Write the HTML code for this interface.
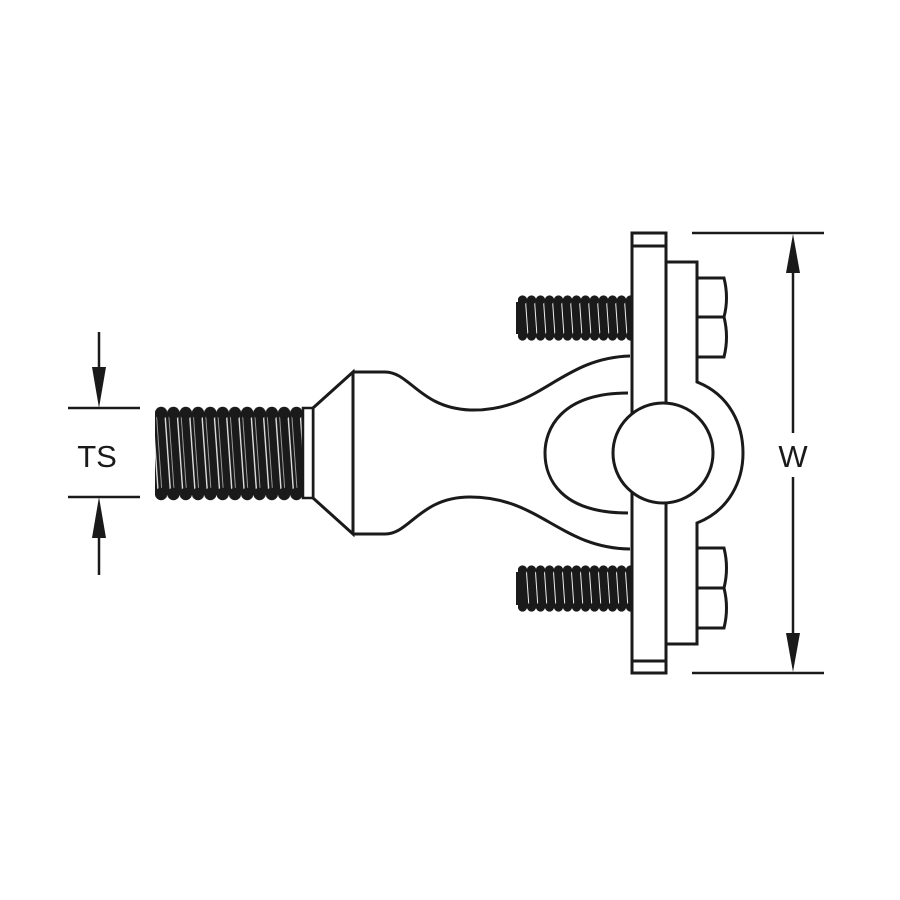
<!DOCTYPE html>
<html><head><style>body{margin:0;background:#fff}svg{display:block}</style></head><body>
<svg width="900" height="900" viewBox="0 0 900 900" xmlns="http://www.w3.org/2000/svg">
<defs>
<pattern id="crestA" x="155" y="0" width="12.3" height="900" patternUnits="userSpaceOnUse">
<circle cx="6.15" cy="413" r="6.2" fill="#1a1a1a"/><circle cx="6.15" cy="494" r="6.2" fill="#1a1a1a"/>
</pattern>
<pattern id="linesA" x="155" y="0" width="12.3" height="900" patternUnits="userSpaceOnUse" patternTransform="skewX(4)">
<rect x="0" y="0" width="12.3" height="900" fill="#1a1a1a"/><rect x="5" y="0" width="1.3" height="900" fill="#eee"/><rect x="9" y="0" width="0.8" height="900" fill="#bbb"/>
</pattern>
<pattern id="crestB" x="518" y="0" width="9" height="900" patternUnits="userSpaceOnUse">
<circle cx="4.5" cy="300" r="4.6" fill="#1a1a1a"/><circle cx="4.5" cy="336" r="4.6" fill="#1a1a1a"/>
<circle cx="4.5" cy="570" r="4.6" fill="#1a1a1a"/><circle cx="4.5" cy="607" r="4.6" fill="#1a1a1a"/>
</pattern>
<pattern id="linesB" x="518" y="0" width="9" height="900" patternUnits="userSpaceOnUse" patternTransform="skewX(4)">
<rect x="0" y="0" width="9" height="900" fill="#1a1a1a"/><rect x="4" y="0" width="1" height="900" fill="#eee"/>
</pattern>
</defs>
<g stroke="#1a1a1a" stroke-width="3" fill="none">
<!-- eye body -->
<path d="M353,372 L385,372 C410,372 420,408 470,410 C540,412 560,358 630,356" fill="#fff"/>
<path d="M353,534 L385,534 C410,534 420,497 470,497 C540,497 560,548 630,549" fill="#fff"/>
<path d="M313,408 L353,372 L353,534 L313,498 Z" fill="#fff"/>
<path d="M628,393 C560,393 545,430 545,453 C545,478 560,513 628,513"/>
</g>
<!-- main thread -->
<rect x="155" y="413" width="148" height="81" fill="url(#linesA)"/>
<rect x="155" y="406" width="148" height="95" fill="url(#crestA)"/>
<rect x="303" y="408" width="10" height="90" fill="#fff" stroke="#1a1a1a" stroke-width="2.5"/>
<!-- small bolts -->
<rect x="518" y="300" width="114" height="36" fill="url(#linesB)"/>
<rect x="518" y="295" width="114" height="46" fill="url(#crestB)"/>
<rect x="518" y="570" width="114" height="37" fill="url(#linesB)"/>
<rect x="518" y="565" width="114" height="47" fill="url(#crestB)"/>
<rect x="516" y="302" width="5" height="32" fill="#1a1a1a"/>
<rect x="516" y="572" width="5" height="33" fill="#1a1a1a"/>
<g stroke="#1a1a1a" stroke-width="3" fill="#fff">
<!-- nuts -->
<path d="M697,278 L724,278 Q729,298 724,317 Q729,337 724,357 L697,357 Z"/>
<line x1="697" y1="317" x2="724" y2="317"/>
<path d="M697,548 L724,548 Q729,568 724,588 Q729,608 724,628 L697,628 Z"/>
<line x1="697" y1="588" x2="724" y2="588"/>
<!-- plate 2 -->
<path d="M666,262 L697,262 L697,382 C730,395 743,425 743,453 C743,480 730,510 697,523 L697,644 L666,644 Z"/>
<!-- plate 1 -->
<rect x="632" y="233" width="34" height="440"/>
<line x1="632" y1="246" x2="666" y2="246"/>
<line x1="632" y1="661" x2="666" y2="661"/>
<circle cx="663" cy="453" r="50"/>
</g>
<!-- dimensions -->
<g stroke="#1a1a1a" stroke-width="2.5">
<line x1="68" y1="408" x2="140" y2="408"/><line x1="68" y1="497" x2="140" y2="497"/>
<line x1="99" y1="332" x2="99" y2="370"/><line x1="99" y1="537" x2="99" y2="575"/>
<line x1="692" y1="233" x2="824" y2="233"/><line x1="692" y1="673" x2="824" y2="673"/>
<line x1="793" y1="270" x2="793" y2="433"/><line x1="793" y1="477" x2="793" y2="636"/>
</g>
<g fill="#1a1a1a">
<path d="M92,367 L106,367 L99,408 Z"/><path d="M92,538 L106,538 L99,497 Z"/>
<path d="M786,273 L800,273 L793,234 Z"/><path d="M786,633 L800,633 L793,672 Z"/>
</g>
<text x="97" y="467" font-family="Liberation Sans, sans-serif" font-size="31" text-anchor="middle" fill="#1a1a1a">TS</text>
<text x="793" y="467" font-family="Liberation Sans, sans-serif" font-size="31" text-anchor="middle" fill="#1a1a1a">W</text>
</svg>
</body></html>
